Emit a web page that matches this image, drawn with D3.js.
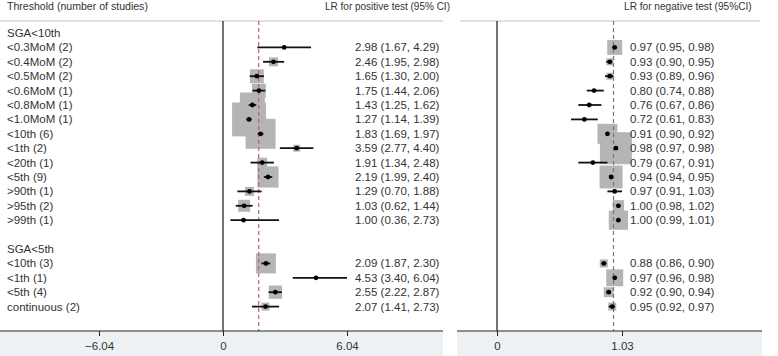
<!DOCTYPE html>
<html>
<head>
<meta charset="utf-8">
<script src="https://cdn.jsdelivr.net/npm/d3@7"></script>
<style>
  body { margin: 0; background: #fff; }
  text { font-family: "Liberation Sans", Arial, sans-serif; font-size: 11.5px; fill: #333; }
</style>
</head>
<body>
<svg id="chart" width="778" height="356"></svg>
<script>
// rows of the table (index = row number, "" = empty row)
var labels = ["SGA<10th", "<0.3MoM (2)", "<0.4MoM (2)", "<0.5MoM (2)", "<0.6MoM (1)", "<0.8MoM (1)",
  "<1.0MoM (1)", "<10th (6)", "<1th (2)", "<20th (1)", "<5th (9)", ">90th (1)", ">95th (2)", ">99th (1)",
  "", "SGA<5th", "<10th (3)", "<1th (1)", "<5th (4)", "continuous (2)"];
var studyRows = [1,2,3,4,5,6,7,8,9,10,11,12,13,16,17,18,19];

// LR for positive test
var lrPos   = [2.98, 2.46, 1.65, 1.75, 1.43, 1.27, 1.83, 3.59, 1.91, 2.19, 1.29, 1.03, 1.00, 2.09, 4.53, 2.55, 2.07];
var lrPosLo = [1.67, 1.95, 1.30, 1.44, 1.25, 1.14, 1.69, 2.77, 1.34, 1.99, 0.70, 0.62, 0.36, 1.87, 3.40, 2.22, 1.41];
var lrPosHi = [4.29, 2.98, 2.00, 2.06, 1.62, 1.39, 1.97, 4.40, 2.48, 2.40, 1.88, 1.44, 2.73, 2.30, 6.04, 2.87, 2.73];
var lrPosW  = [0, 5, 12, 12, 39, 72, 56, 3, 6, 28, 5, 9, 0, 25, 0, 11, 4];
var lrPosRef = 1.74;
var lrPosTicks = [-6.04, 0, 6.04];

// LR for negative test
var lrNeg   = [0.97, 0.93, 0.93, 0.80, 0.76, 0.72, 0.91, 0.98, 0.79, 0.94, 0.97, 1.00, 1.00, 0.88, 0.97, 0.92, 0.95];
var lrNegLo = [0.95, 0.90, 0.89, 0.74, 0.67, 0.61, 0.90, 0.97, 0.67, 0.94, 0.91, 0.98, 0.99, 0.86, 0.96, 0.90, 0.92];
var lrNegHi = [0.98, 0.95, 0.96, 0.88, 0.86, 0.83, 0.92, 0.98, 0.91, 0.95, 1.03, 1.02, 1.01, 0.90, 0.98, 0.94, 0.97];
var lrNegW  = [14, 3, 3, 0, 0, 0, 25, 64, 0, 33, 0, 8, 23, 4, 18, 6, 4];
var lrNegRef = 0.96;
var lrNegTicks = [0, 1.03];

var svg = d3.select("#chart");
var f2 = d3.format(".2f");

var y = d3.scaleLinear().domain([0, 19]).range([33, 306.6]);
var box = d3.scaleSqrt().domain([0, 100]).range([0, 40]);
var top0 = 21, axisY = 331;

// header (the original text is a bit condensed)
function header(x, sx, txt) {
  svg.append("text")
    .attr("transform", "translate(" + x + ",6) scale(" + sx + ",1)")
    .attr("dy", "0.35em")
    .text(txt);
}
header(7, 0.92, "Threshold (number of studies)");
header(325, 0.87, "LR for positive test (95% CI)");
header(624, 0.88, "LR for negative test (95%CI)");
svg.append("line").attr("x1", 0).attr("x2", 443).attr("y1", top0).attr("y2", top0).style("stroke", "#c4c4c4");
svg.append("line").attr("x1", 460).attr("x2", 760).attr("y1", top0).attr("y2", top0).style("stroke", "#c4c4c4");

// row labels
svg.append("g").selectAll("text")
  .data(labels)
  .join("text")
  .attr("x", 7)
  .attr("y", function(d, i){ return y(i); })
  .attr("dy", "0.35em")
  .text(function(d){ return d; });

function panel(x, est, lo, hi, w, ref, ticks, bandX0, bandX1, textX, refColor) {
  var g = svg.append("g");

  // axis band
  g.append("rect").attr("x", bandX0).attr("y", axisY).attr("width", bandX1 - bandX0).attr("height", 356 - axisY)
    .style("fill", "#edf1f4");

  // boxes
  g.append("g").selectAll("rect")
    .data(est)
    .join("rect")
    .attr("x", function(d, i){ return x(d) - box(w[i]) / 2; })
    .attr("y", function(d, i){ return y(studyRows[i]) - box(w[i]) / 2; })
    .attr("width", function(d, i){ return box(w[i]); })
    .attr("height", function(d, i){ return box(w[i]); })
    .style("fill", "#b5b5b5");

  // zero line and reference line
  g.append("line").attr("x1", x(0)).attr("x2", x(0)).attr("y1", top0).attr("y2", axisY)
    .style("stroke", "#2a2a2a").style("stroke-width", 1.3);
  g.append("line").attr("x1", x(ref)).attr("x2", x(ref)).attr("y1", top0).attr("y2", axisY)
    .style("stroke", refColor).style("stroke-width", 1.2).style("stroke-dasharray", "4,3");

  // confidence intervals
  g.append("g").selectAll("line")
    .data(est)
    .join("line")
    .attr("x1", function(d, i){ return x(lo[i]); })
    .attr("x2", function(d, i){ return x(hi[i]); })
    .attr("y1", function(d, i){ return y(studyRows[i]); })
    .attr("y2", function(d, i){ return y(studyRows[i]); })
    .style("stroke", "#111").style("stroke-width", 1.8);

  // point estimates
  g.append("g").selectAll("circle")
    .data(est)
    .join("circle")
    .attr("cx", function(d){ return x(d); })
    .attr("cy", function(d, i){ return y(studyRows[i]); })
    .attr("r", 2.4)
    .style("fill", "#000");

  // estimate text
  g.append("g").selectAll("text")
    .data(est)
    .join("text")
    .attr("x", textX)
    .attr("y", function(d, i){ return y(studyRows[i]); })
    .attr("dy", "0.35em")
    .text(function(d, i){ return f2(d) + " (" + f2(lo[i]) + ", " + f2(hi[i]) + ")"; });

  // x axis
  var ax = g.append("g")
    .attr("transform", "translate(0," + axisY + ")")
    .call(d3.axisBottom(x).tickValues(ticks).tickFormat(function(d){ return d === 0 ? "0" : f2(d); }).tickSize(5).tickPadding(6));
  ax.select(".domain").remove();
  ax.selectAll("line").style("stroke", "#222");
  ax.selectAll("text").style("font-size", "11.5px").style("fill", "#333")
    .style("font-family", "Liberation Sans, Arial, sans-serif");
  g.append("line").attr("x1", bandX0).attr("x2", bandX1).attr("y1", axisY).attr("y2", axisY)
    .style("stroke", "#222").style("stroke-width", 1.2);
}

var xPos = d3.scaleLinear().domain([-6.04, 6.04]).range([99, 347]);
var xNeg = d3.scaleLinear().domain([0, 1.03]).range([497, 622]);

panel(xPos, lrPos, lrPosLo, lrPosHi, lrPosW, lrPosRef, lrPosTicks, 0, 443, 355, "#a86a78");
panel(xNeg, lrNeg, lrNegLo, lrNegHi, lrNegW, lrNegRef, lrNegTicks, 457, 762, 630, "#777");
</script>
</body>
</html>
